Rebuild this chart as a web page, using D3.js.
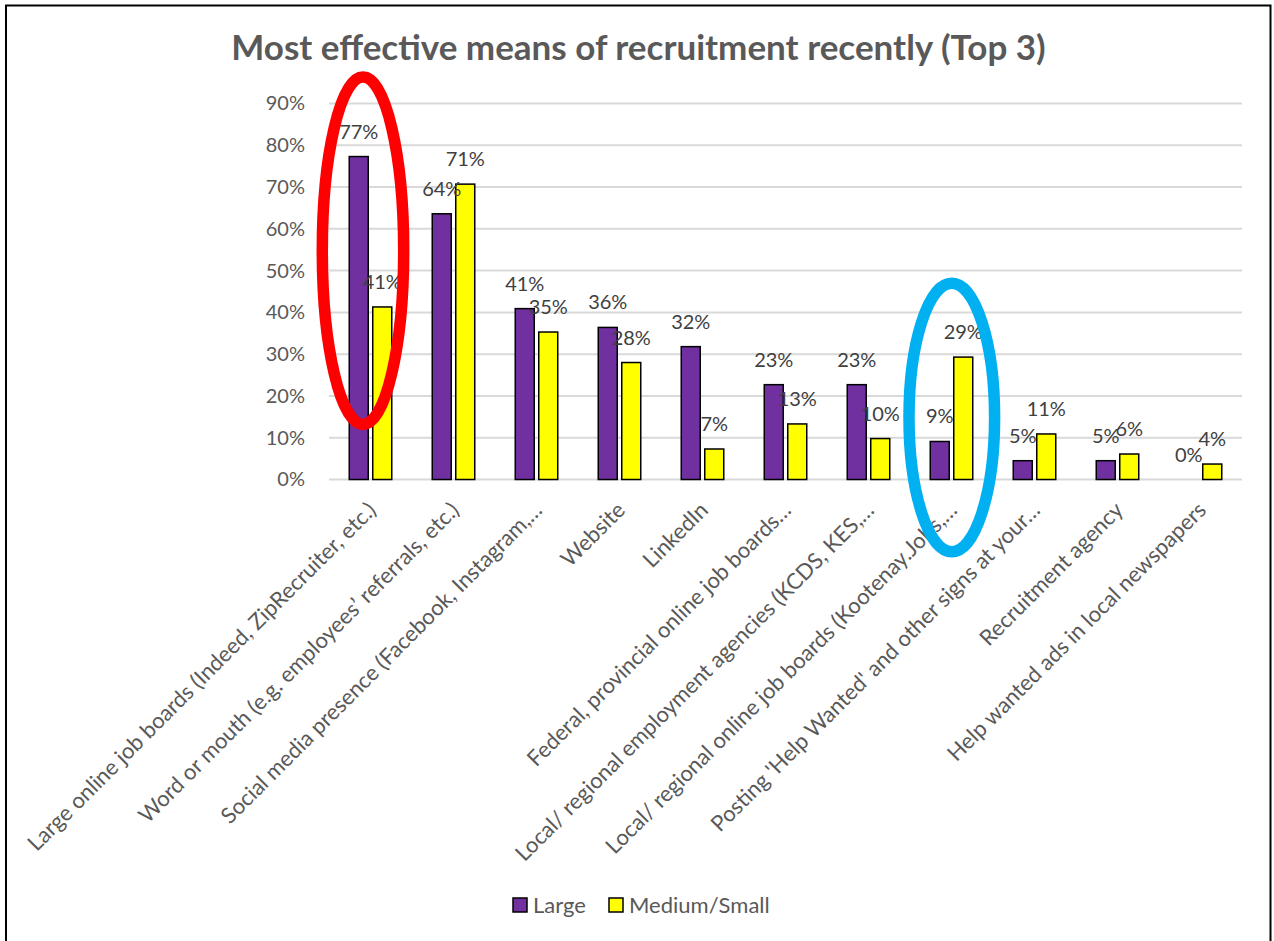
<!DOCTYPE html>
<html>
<head>
<meta charset="utf-8">
<script src="https://cdn.jsdelivr.net/npm/d3@7"></script>
<style>
  html, body { margin: 0; padding: 0; background: #fff; }
  svg { display: block; }
  text { font-family: Lato, "Liberation Sans", sans-serif; }
</style>
</head>
<body>
<svg id="chart" width="1274" height="941"></svg>
<script>
// Recruitment channels rated most effective, by employer size (% naming it in their top 3)
const categories = [
  "Large online job boards (Indeed, ZipRecruiter, etc.)",
  "Word or mouth (e.g. employees\u2019 referrals, etc.)",
  "Social media presence (Facebook, Instagram,\u2026",
  "Website",
  "LinkedIn",
  "Federal, provincial online job boards\u2026",
  "Local/ regional employment agencies (KCDS, KES,\u2026",
  "Local/ regional online job boards (Kootenay.Jobs,\u2026",
  "Posting 'Help Wanted' and other signs at your\u2026",
  "Recruitment agency",
  "Help wanted ads in local newspapers"
];
const seriesNames = ["Large", "Medium/Small"];
const largeValues = [77.3, 63.6, 40.9, 36.4, 31.8, 22.7, 22.7, 9.1, 4.5, 4.5, 0];
const mediumSmallValues = [41.3, 70.7, 35.3, 28.0, 7.3, 13.3, 9.8, 29.3, 10.9, 6.1, 3.7];
const yTicks = [0, 10, 20, 30, 40, 50, 60, 70, 80, 90];
const titleText = "Most effective means of recruitment recently (Top 3)";

const colors = { "Large": "#7030A0", "Medium/Small": "#FFFF00" };

const svg = d3.select("#chart");

// outer chart frame
svg.append("rect")
  .attr("x", 6).attr("y", 5.5)
  .attr("width", 1264.5).attr("height", 960)
  .attr("fill", "none").attr("stroke", "#000").attr("stroke-width", 2);

const plot = { left: 329, right: 1242, top: 103.5, bottom: 479.5 };

const x = d3.scaleBand().domain(categories).range([plot.left, plot.right]).paddingInner(0).paddingOuter(0);
const y = d3.scaleLinear().domain([0, 90]).range([plot.bottom, plot.top]);

// series offsets inside each category band
const barW = 19, barGap = 4.5;
const groupW = barW * 2 + barGap;
const xs = d3.scaleOrdinal().domain(seriesNames)
  .range([(x.bandwidth() - groupW) / 2, (x.bandwidth() - groupW) / 2 + barW + barGap]);

// title
svg.append("text")
  .attr("x", 638.5).attr("y", 60)
  .attr("text-anchor", "middle")
  .attr("font-size", 35).attr("font-weight", 700)
  .attr("fill", "#595959")
  .text(titleText);

// gridlines
svg.append("g")
  .selectAll("line").data(yTicks).join("line")
  .attr("x1", plot.left).attr("x2", plot.right)
  .attr("y1", d => y(d)).attr("y2", d => y(d))
  .attr("stroke", "#d9d9d9").attr("stroke-width", 2);

// y axis labels
const yAxis = d3.axisLeft(y).tickValues(yTicks).tickFormat(d => d + "%").tickSize(0).tickPadding(24);
const yg = svg.append("g").attr("transform", `translate(${plot.left},0)`).call(yAxis);
yg.select(".domain").remove();
yg.selectAll("text").attr("font-size", 20).attr("fill", "#595959").attr("font-family", "Lato, sans-serif");

// bars
const rows = categories.map((c, i) => ({ cat: c, vals: [
  { s: "Large", v: largeValues[i] },
  { s: "Medium/Small", v: mediumSmallValues[i] }
]}));

const groups = svg.append("g").selectAll("g").data(rows).join("g")
  .attr("transform", d => `translate(${x(d.cat)},0)`);

groups.selectAll("rect").data(d => d.vals.filter(e => e.v > 0)).join("rect")
  .attr("x", d => xs(d.s))
  .attr("y", d => y(d.v))
  .attr("width", barW)
  .attr("height", d => y(0) - y(d.v))
  .attr("fill", d => colors[d.s])
  .attr("stroke", "#000").attr("stroke-width", 1.5);

// data labels
groups.selectAll("text").data(d => d.vals).join("text")
  .attr("x", d => xs(d.s) + barW / 2)
  .attr("y", d => y(d.v) - 18)
  .attr("text-anchor", "middle")
  .attr("font-size", 20)
  .attr("fill", "#404040")
  .text(d => Math.round(d.v) + "%");

// rotated category labels
svg.append("g").selectAll("text").data(categories).join("text")
  .attr("transform", d => `translate(${x(d) + x.bandwidth() / 2 + 7},${plot.bottom + 32}) rotate(-45)`)
  .attr("text-anchor", "end")
  .attr("font-size", 22)
  .attr("fill", "#595959")
  .text(d => d);

// legend
const legend = svg.append("g");
const legendItems = [{ s: "Large", x: 513 }, { s: "Medium/Small", x: 609 }];
legendItems.forEach(item => {
  legend.append("rect")
    .attr("x", item.x).attr("y", 898)
    .attr("width", 14).attr("height", 14)
    .attr("fill", colors[item.s]).attr("stroke", "#000").attr("stroke-width", 1.5);
  legend.append("text")
    .attr("x", item.x + 20).attr("y", 913)
    .attr("font-size", 22).attr("fill", "#595959")
    .text(item.s);
});

// highlight ellipses
svg.append("ellipse")
  .attr("cx", 363).attr("cy", 250.7).attr("rx", 40.7).attr("ry", 173.7)
  .attr("fill", "none").attr("stroke", "#FF0000").attr("stroke-width", 11.5);
svg.append("ellipse")
  .attr("cx", 951.8).attr("cy", 417.5).attr("rx", 42.8).attr("ry", 134.2)
  .attr("fill", "none").attr("stroke", "#00B0F0").attr("stroke-width", 11.5);
</script>
</body>
</html>
